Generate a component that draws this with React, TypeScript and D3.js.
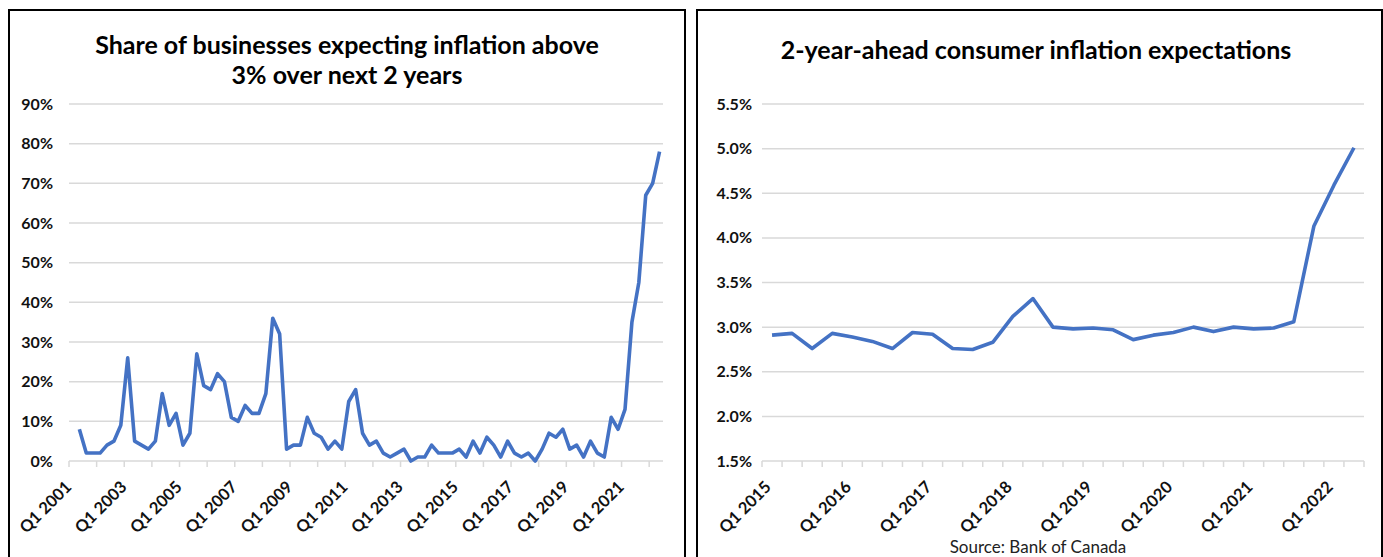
import React from "react";
import * as d3 from "d3";

// Quarter labels for each series
const businessYears = [2001, 2022];
const businessLastQuarter = 2;
const consumerYears = [2015, 2022];
const consumerLastQuarter = 2;

// Share of businesses expecting inflation above 3% (percent), Q1 2001 – Q2 2022
const businessShare: (number | null)[] = [
  null, 8, 2, 2, 2, 4, 5, 9, 26,
  5, 4, 3, 5, 17, 9, 12, 4, 7, 27, 19, 18,
  22, 20, 11, 10, 14, 12, 12, 17, 36, 32, 3, 4, 4, 11, 7, 6, 3, 5, 3, 15, 18,
  7, 4, 5, 2, 1, 2, 3, 0, 1, 1, 4, 2, 2, 2, 3, 1, 5, 2, 6, 4, 1, 5,
  2, 1, 2, 0, 3, 7, 6, 8, 3, 4, 1, 5, 2, 1, 11, 8, 13, 35, 45, 67, 70, 78,
];

// 2-year-ahead consumer inflation expectations (percent), Q1 2015 – Q2 2022
const consumerExpectations: number[] = [
  2.91, 2.93, 2.76, 2.93, 2.89, 2.84, 2.76, 2.94, 2.92, 2.76, 2.75, 2.83,
  3.12, 3.32, 3.0, 2.98, 2.99, 2.97, 2.86, 2.91, 2.94, 3.0, 2.95, 3.0,
  2.98, 2.99, 3.06, 4.13, 4.59, 5.01,
];

const businessTicks = [0, 10, 20, 30, 40, 50, 60, 70, 80, 90];
const consumerTicks = [1.5, 2.0, 2.5, 3.0, 3.5, 4.0, 4.5, 5.0, 5.5];

const leftTitle = ["Share of businesses expecting inflation above", "3% over next 2 years"];
const rightTitle = "2-year-ahead consumer inflation expectations";
const sourceNote = "Source:  Bank of Canada";

function quarters(years: number[], lastQ: number): string[] {
  const out: string[] = [];
  for (let y = years[0]; y <= years[1]; y++) {
    for (let q = 1; q <= 4; q++) {
      if (y === years[1] && q > lastQ) break;
      out.push(`Q${q} ${y}`);
    }
  }
  return out;
}

const FONT = "Lato, 'Open Sans', sans-serif";
const LINE = "#4472C4";
const GRID = "#d9d9d9";

type PanelProps = {
  cats: string[];
  values: (number | null)[];
  yDomain: [number, number];
  yTicks: number[];
  yFmt: (v: number) => string;
  xRange: [number, number];
  yRange: [number, number];
  labelEvery: number;
  tickEvery: number;
  yLabelRight: number;
};

function Panel(p: PanelProps) {
  const x = d3.scaleBand<string>().domain(p.cats).range(p.xRange).padding(0);
  const y = d3.scaleLinear().domain(p.yDomain).range(p.yRange);
  const bw = x.bandwidth();
  const cx = (c: string) => (x(c) as number) + bw / 2;
  const line = d3
    .line<[string, number | null]>()
    .defined((d) => d[1] != null)
    .x((d) => cx(d[0]))
    .y((d) => y(d[1] as number));
  const pairs: [string, number | null][] = p.cats.map((c, i) => [c, p.values[i]]);
  const y0 = p.yRange[0];
  const boundaries = p.cats.map((c) => x(c) as number);
  return (
    <g>
      {p.yTicks.map((t) => (
        <g key={t}>
          {t !== p.yDomain[0] && (
            <line x1={p.xRange[0]} x2={p.xRange[1]} y1={y(t)} y2={y(t)} stroke={GRID} strokeWidth={1.5} />
          )}
          <text
            x={p.yLabelRight}
            y={y(t)}
            dy="0.35em"
            textAnchor="end"
            fontFamily={FONT}
            fontWeight={700}
            fontSize={16}
            fill="#111"
          >
            {p.yFmt(t)}
          </text>
        </g>
      ))}
      <line x1={p.xRange[0]} x2={p.xRange[1]} y1={y0} y2={y0} stroke={GRID} strokeWidth={1.5} />
      {boundaries
        .filter((_, i) => i % p.tickEvery === 0)
        .concat(p.tickEvery === 1 ? [p.xRange[1]] : [])
        .map((bx, i) => (
          <line key={i} x1={bx} x2={bx} y1={y0} y2={y0 + 6} stroke={GRID} strokeWidth={1.5} />
        ))}
      {p.cats.map((c, i) =>
        i % p.labelEvery === 0 ? (
          <text
            key={c}
            transform={`translate(${cx(c) - 4},${y0 + 23}) rotate(-45)`}
            textAnchor="end"
            dy="0.35em"
            fontFamily={FONT}
            fontWeight={700}
            fontSize={16.5}
            fill="#111"
          >
            {c}
          </text>
        ) : null
      )}
      <path d={line(pairs) || ""} fill="none" stroke={LINE} strokeWidth={3.6} strokeLinejoin="round" />
    </g>
  );
}

export default function App() {
  const bizCats = quarters(businessYears, businessLastQuarter);
  const conCats = quarters(consumerYears, consumerLastQuarter);
  return (
    <svg
      width={1383}
      height={557}
      style={{ position: "absolute", left: 0, top: 0, background: "#fff" }}
    >
      <rect x={0} y={0} width={1383} height={557} fill="#fff" />
      {/* panel frames */}
      <rect x={9} y={10} width={676} height={560} fill="none" stroke="#000" strokeWidth={2} />
      <rect x={697} y={10} width={685} height={560} fill="none" stroke="#000" strokeWidth={2} />

      {/* titles */}
      {leftTitle.map((t, i) => (
        <text
          key={t}
          x={347}
          y={54 + i * 30}
          textAnchor="middle"
          fontFamily={FONT}
          fontWeight={700}
          fontSize={25}
          fill="#000"
        >
          {t}
        </text>
      ))}
      <text x={1036} y={59} textAnchor="middle" fontFamily={FONT} fontWeight={700} fontSize={25} fill="#000">
        {rightTitle}
      </text>

      <Panel
        cats={bizCats}
        values={businessShare}
        yDomain={[0, 90]}
        yTicks={businessTicks}
        yFmt={(v) => `${v}%`}
        xRange={[69, 663]}
        yRange={[461, 104]}
        labelEvery={8}
        tickEvery={4}
        yLabelRight={53}
      />
      <Panel
        cats={conCats}
        values={consumerExpectations}
        yDomain={[1.5, 5.5]}
        yTicks={consumerTicks}
        yFmt={(v) => `${v.toFixed(1)}%`}
        xRange={[762, 1364]}
        yRange={[461, 104]}
        labelEvery={4}
        tickEvery={1}
        yLabelRight={752}
      />

      <text x={1038} y={553} textAnchor="middle" fontFamily={FONT} fontSize={17} fill="#222">
        {sourceNote}
      </text>
    </svg>
  );
}
